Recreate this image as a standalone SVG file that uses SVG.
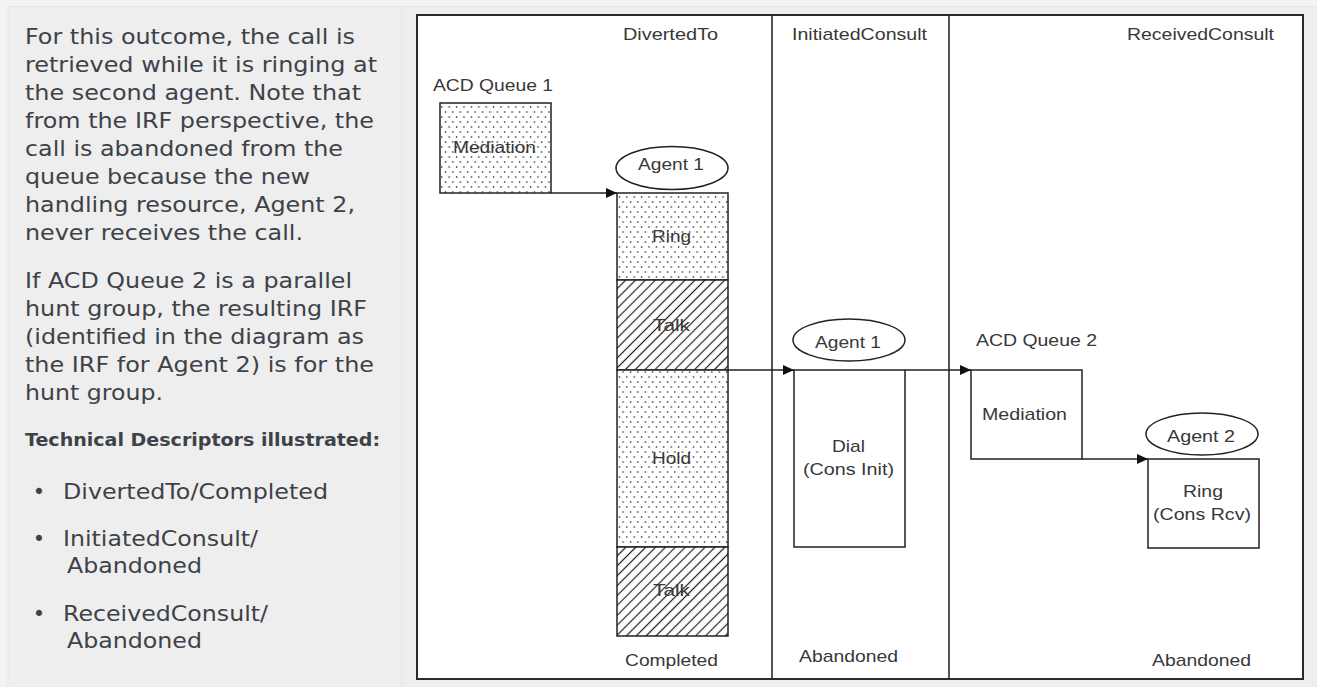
<svg xmlns="http://www.w3.org/2000/svg" width="1317" height="687" viewBox="0 0 1317 687">
<style>
.body{font-family:"DejaVu Sans","Noto Sans",sans-serif;font-size:21px;fill:#3d4249;}
.bold{font-family:"DejaVu Sans","Noto Sans",sans-serif;font-size:18px;font-weight:bold;fill:#3d4249;}
.lbl{font-family:"Liberation Sans",Arial,sans-serif;font-size:17px;fill:#383838;}
.box{stroke:#222;stroke-width:1.5;}
.conn{stroke:#222;stroke-width:1.5;fill:none;}
</style>
<defs>
<pattern id="dots" patternUnits="userSpaceOnUse" width="7.4" height="10">
<rect x="0" y="0" width="7.4" height="10" fill="#fff"/>
<circle cx="1.5" cy="2" r="0.8" fill="#111"/>
<circle cx="5.2" cy="7" r="0.8" fill="#111"/>
</pattern>
<pattern id="hatch" patternUnits="userSpaceOnUse" width="7" height="7" patternTransform="rotate(45)">
<rect x="0" y="0" width="7" height="7" fill="#fff"/>
<line x1="3.5" y1="0" x2="3.5" y2="7" stroke="#222" stroke-width="1.2"/>
</pattern>
<marker id="arr" markerUnits="userSpaceOnUse" markerWidth="12" markerHeight="10" refX="11" refY="5" orient="auto">
<path d="M0,0 L11,5 L0,10 z" fill="#111"/>
</marker>
</defs>

<g id="background">
<rect x="0" y="0" width="1317" height="687" fill="#f3f3f3"/>
<rect x="8" y="6.5" width="394" height="690" fill="#eeeeee" stroke="#e1e6ec" stroke-width="1"/>
<rect x="402" y="6.5" width="925" height="690" fill="#eeeeee" stroke="#e1e6ec" stroke-width="1"/>
</g>

<g id="description">
<text class="body" x="25" y="44" textLength="330" lengthAdjust="spacingAndGlyphs">For this outcome, the call is</text>
<text class="body" x="25" y="72" textLength="352" lengthAdjust="spacingAndGlyphs">retrieved while it is ringing at</text>
<text class="body" x="25" y="100" textLength="336" lengthAdjust="spacingAndGlyphs">the second agent. Note that</text>
<text class="body" x="25" y="128" textLength="349" lengthAdjust="spacingAndGlyphs">from the IRF perspective, the</text>
<text class="body" x="25" y="156" textLength="318" lengthAdjust="spacingAndGlyphs">call is abandoned from the</text>
<text class="body" x="25" y="184" textLength="285" lengthAdjust="spacingAndGlyphs">queue because the new</text>
<text class="body" x="25" y="212" textLength="330" lengthAdjust="spacingAndGlyphs">handling resource, Agent 2,</text>
<text class="body" x="25" y="240" textLength="278" lengthAdjust="spacingAndGlyphs">never receives the call.</text>
<text class="body" x="25" y="288" textLength="327" lengthAdjust="spacingAndGlyphs">If ACD Queue 2 is a parallel</text>
<text class="body" x="25" y="316" textLength="342" lengthAdjust="spacingAndGlyphs">hunt group, the resulting IRF</text>
<text class="body" x="25" y="344" textLength="339" lengthAdjust="spacingAndGlyphs">(identified in the diagram as</text>
<text class="body" x="25" y="372" textLength="349" lengthAdjust="spacingAndGlyphs">the IRF for Agent 2) is for the</text>
<text class="body" x="25" y="400" textLength="138" lengthAdjust="spacingAndGlyphs">hunt group.</text>
<text class="bold" x="25" y="446" textLength="355" lengthAdjust="spacingAndGlyphs">Technical Descriptors illustrated:</text>
<text class="body" x="39" y="499" text-anchor="middle">•</text>
<text class="body" x="63" y="499" textLength="265" lengthAdjust="spacingAndGlyphs">DivertedTo/Completed</text>
<text class="body" x="39" y="546" text-anchor="middle">•</text>
<text class="body" x="63" y="546" textLength="195" lengthAdjust="spacingAndGlyphs">InitiatedConsult/</text>
<text class="body" x="67" y="573" textLength="135" lengthAdjust="spacingAndGlyphs">Abandoned</text>
<text class="body" x="39" y="621" text-anchor="middle">•</text>
<text class="body" x="63" y="621" textLength="205" lengthAdjust="spacingAndGlyphs">ReceivedConsult/</text>
<text class="body" x="67" y="648" textLength="135" lengthAdjust="spacingAndGlyphs">Abandoned</text>
</g>

<g id="frame">
<rect x="417" y="15" width="886" height="664" fill="#fff" stroke="#2a2a2a" stroke-width="2"/>
<line x1="772" y1="15" x2="772" y2="679" stroke="#2a2a2a" stroke-width="1.6"/>
<line x1="949" y1="15" x2="949" y2="679" stroke="#2a2a2a" stroke-width="1.6"/>
<text class="lbl" x="623" y="39.5" textLength="95" lengthAdjust="spacingAndGlyphs">DivertedTo</text>
<text class="lbl" x="792" y="39.5" textLength="135" lengthAdjust="spacingAndGlyphs">InitiatedConsult</text>
<text class="lbl" x="1127" y="40" textLength="147" lengthAdjust="spacingAndGlyphs">ReceivedConsult</text>
<text class="lbl" x="625" y="665.5" textLength="93" lengthAdjust="spacingAndGlyphs">Completed</text>
<text class="lbl" x="799" y="662" textLength="99" lengthAdjust="spacingAndGlyphs">Abandoned</text>
<text class="lbl" x="1152" y="666" textLength="99" lengthAdjust="spacingAndGlyphs">Abandoned</text>
</g>

<g id="queue1">
<text class="lbl" x="433" y="90.5" textLength="120" lengthAdjust="spacingAndGlyphs">ACD Queue 1</text>
<rect class="box" x="440" y="103" width="111" height="90" fill="url(#dots)"/>
<text class="lbl" x="453" y="153" textLength="83" lengthAdjust="spacingAndGlyphs">Mediation</text>
</g>

<g id="agent1-divert">
<ellipse class="box" cx="672" cy="168" rx="56" ry="21.5" fill="#fff"/>
<text class="lbl" x="638" y="170" textLength="66" lengthAdjust="spacingAndGlyphs">Agent 1</text>
<rect class="box" x="617" y="193" width="111" height="87" fill="url(#dots)"/>
<text class="lbl" x="652" y="241.5" textLength="39" lengthAdjust="spacingAndGlyphs">Ring</text>
<rect class="box" x="617" y="280" width="111" height="90" fill="url(#hatch)"/>
<text class="lbl" x="653" y="330.5" textLength="37" lengthAdjust="spacingAndGlyphs">Talk</text>
<rect class="box" x="617" y="370" width="111" height="177" fill="url(#dots)"/>
<text class="lbl" x="652" y="463.5" textLength="39" lengthAdjust="spacingAndGlyphs">Hold</text>
<rect class="box" x="617" y="547" width="111" height="89" fill="url(#hatch)"/>
<text class="lbl" x="653" y="595.5" textLength="37" lengthAdjust="spacingAndGlyphs">Talk</text>
</g>

<g id="agent1-consult">
<ellipse class="box" cx="849" cy="340" rx="56" ry="21" fill="#fff"/>
<text class="lbl" x="815" y="348" textLength="66" lengthAdjust="spacingAndGlyphs">Agent 1</text>
<rect class="box" x="794" y="370" width="111" height="177" fill="#fff"/>
<text class="lbl" x="832" y="452" textLength="33" lengthAdjust="spacingAndGlyphs">Dial</text>
<text class="lbl" x="803" y="475" textLength="91" lengthAdjust="spacingAndGlyphs">(Cons Init)</text>
</g>

<g id="queue2">
<text class="lbl" x="976" y="346" textLength="121" lengthAdjust="spacingAndGlyphs">ACD Queue 2</text>
<rect class="box" x="971" y="370" width="111" height="89" fill="#fff"/>
<text class="lbl" x="982" y="420" textLength="85" lengthAdjust="spacingAndGlyphs">Mediation</text>
</g>

<g id="agent2">
<ellipse class="box" cx="1202" cy="434" rx="56" ry="21" fill="#fff"/>
<text class="lbl" x="1167" y="441.5" textLength="68" lengthAdjust="spacingAndGlyphs">Agent 2</text>
<rect class="box" x="1148" y="459" width="111" height="89" fill="#fff"/>
<text class="lbl" x="1183" y="496.5" textLength="40" lengthAdjust="spacingAndGlyphs">Ring</text>
<text class="lbl" x="1153" y="520" textLength="98" lengthAdjust="spacingAndGlyphs">(Cons Rcv)</text>
</g>

<g id="connectors">
<path class="conn" d="M551,193 H617" marker-end="url(#arr)"/>
<path class="conn" d="M728,370 H794" marker-end="url(#arr)"/>
<path class="conn" d="M905,370 H971" marker-end="url(#arr)"/>
<path class="conn" d="M1082,459 H1148" marker-end="url(#arr)"/>
</g>
</svg>
